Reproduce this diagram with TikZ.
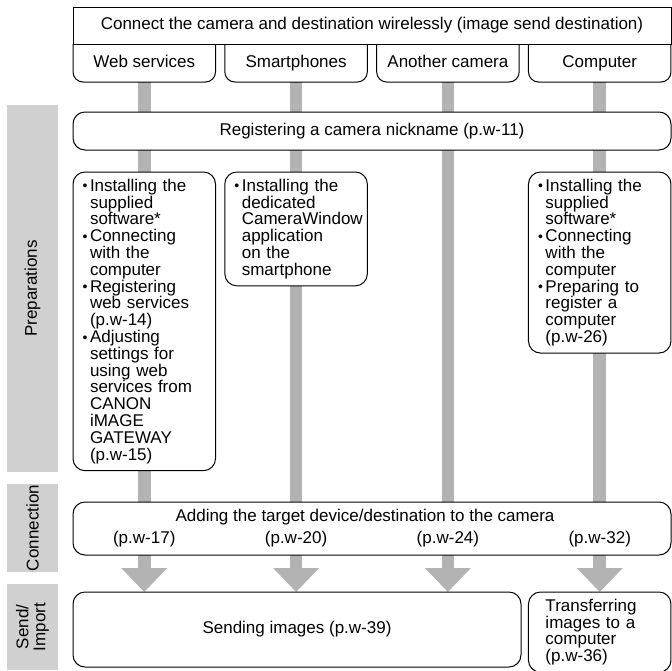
\documentclass[tikz,border=0pt]{standalone}
\usepackage{fontspec}
\setmainfont{Liberation Sans}
\usetikzlibrary{positioning,arrows.meta,backgrounds}
\definecolor{bargray}{HTML}{B3B3B3}
\definecolor{sidegray}{HTML}{D0D0D0}
\newcommand{\bul}{\makebox[9pt][r]{\raisebox{0.5pt}{\fontsize{14pt}{14pt}\selectfont\textbullet}\hspace{2.5pt}}}
\newcommand{\ind}{\hspace*{9pt}}

\begin{document}
\begin{tikzpicture}[x=1pt,y=-1pt,font=\fontsize{17pt}{16.8pt}\selectfont,line width=1pt]
\tikzstyle{tab}=[minimum width=142.5pt,minimum height=38pt,inner sep=0pt,outer sep=0pt,text height=12.5pt,text depth=3.6pt]
\tikzstyle{wide}=[draw,fill=white,rounded corners=12pt,minimum width=598pt,inner sep=0pt,outer sep=0pt]
\tikzstyle{prep}=[draw,fill=white,rounded corners=12pt,text width=126.5pt,inner xsep=8pt,inner ysep=7pt,align=left,outer sep=0pt,execute at begin node={\hyphenpenalty=10000\hbadness=10000\hfuzz=20pt}]
\tikzstyle{lab}=[fill=sidegray,rotate=90,minimum height=51pt,inner sep=0pt,align=center]
\tikzstyle{feed}=[draw=bargray,line width=12.5pt,-{Triangle[width=46pt,length=24pt,line width=0pt]}]
\useasboundingbox (0,0) rectangle (672,670);

\node[draw,minimum width=598pt,minimum height=37pt,inner sep=0pt,outer sep=0pt] (head) at (372,25.5) {Connect the camera and destination wirelessly (image send destination)};
\node[tab,anchor=north west] (web) at (head.south west) {Web services};
\node[tab,right=9.33pt of web] (phone) {Smartphones};
\node[tab,right=9.33pt of phone] (cam) {Another camera};
\node[tab,right=9.33pt of cam] (pc) {Computer};
\foreach \t in {web,phone,cam,pc}
  \draw[rounded corners=10pt] (\t.north west) -- (\t.south west) -- (\t.south east) -- (\t.north east);

\node[wide,minimum height=38pt] (nick) at (372,131) {Registering a camera nickname (p.w-11)};

\node[prep,below=90pt of web] (pweb) {\bul Installing the\\ \ind supplied\\ \ind software*\\ \bul Connecting\\ \ind with the\\ \ind computer\\ \bul Registering\\ \ind web services\\ \ind (p.w-14)\\ \bul Adjusting\\ \ind settings for\\ \ind using web\\ \ind services from\\ \ind CANON\\ \ind iMAGE\\ \ind GATEWAY\\ \ind (p.w-15)};
\node[prep,below=90pt of phone] (pphone) {\bul Installing the\\ \ind dedicated\\ \ind CameraWindow\\ \ind application\\ \ind on the\\ \ind smartphone};
\node[prep,below=90pt of pc] (ppc) {\bul Installing the\\ \ind supplied\\ \ind software*\\ \bul Connecting\\ \ind with the\\ \ind computer\\ \bul Preparing to\\ \ind register a\\ \ind computer\\ \ind (p.w-26)};

\node[wide,minimum height=53pt] (conn) at (372,528.5) {};
\node (add) at (365,517) {Adding the target device/destination to the camera};
\coordinate (refrow) at (0,539);
\node (r1) at (web |- refrow) {(p.w-17)};
\node (r2) at (phone |- refrow) {(p.w-20)};
\node (r3) at (cam |- refrow) {(p.w-24)};
\node (r4) at (pc |- refrow) {(p.w-32)};

\node[wide,minimum width=448pt,minimum height=75pt] (send) at (297,629.5) {Sending images (p.w-39)};
\node[prep,minimum height=75pt,anchor=north] (xfer) at (pc.south |- send.north) {\ind Transferring\\ \ind images to a\\ \ind computer\\ \ind (p.w-36)};

\begin{scope}[on background layer]
\draw[feed] (web.south) -- (web.south |- send.north);
\draw[feed] (phone.south) -- (phone.south |- send.north);
\draw[feed] (cam.south) -- (cam.south |- send.north);
\draw[feed] (pc.south) -- (xfer.north);
\end{scope}

\node[lab,minimum width=367pt] (lprep) at (32.5,288.5) {Preparations};
\node[lab,minimum width=88pt] (lconn) at (32.5,528) {Connection};
\node[lab,minimum width=86pt] (lsend) at (32.5,627) {Send/\\Import};
\end{tikzpicture}
\end{document}
